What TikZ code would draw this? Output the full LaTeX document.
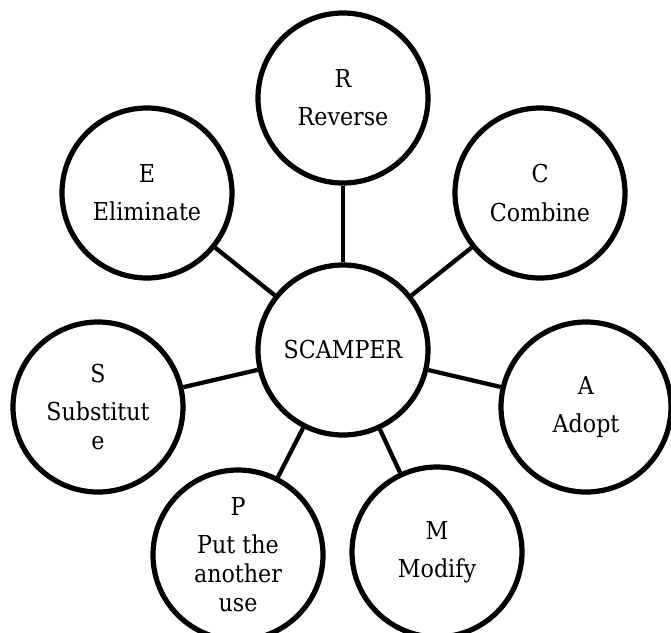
\documentclass[tikz,border=0pt]{standalone}
\usepackage{fontspec}
\setmainfont{DejaVu Serif Condensed}
\begin{document}
\begin{tikzpicture}[x=0.75pt,y=-0.75pt,
  bub/.style={circle,draw,line width=3.9pt,minimum size=127.5pt,inner sep=0pt,
    align=center,font=\fontsize{18.5}{21.75}\selectfont},
  link/.style={line width=3.2pt}]
\useasboundingbox (0,0) rectangle (671,632);
\node[bub] (scamper) at (343,350) {SCAMPER};
\node[bub] (r) at (343,98) {R\\[7pt]Reverse};
\node[bub] (c) at (540,193) {C\\[7pt]Combine};
\node[bub] (e) at (147,193) {E\\[7pt]Eliminate};
\node[bub] (s) at (98,407) {S\\[7pt]Substitut\\e};
\node[bub] (a) at (586,407) {A\\[7pt]Adopt};
\node[bub] (p) at (238,555) {P\\[7pt]Put the\\another\\use};
\node[bub] (m) at (437,552) {M\\[7pt]Modify};
\foreach \n in {r,c,e,s,a,p,m}
  \draw[link] (scamper) -- (\n);
\end{tikzpicture}
\end{document}
